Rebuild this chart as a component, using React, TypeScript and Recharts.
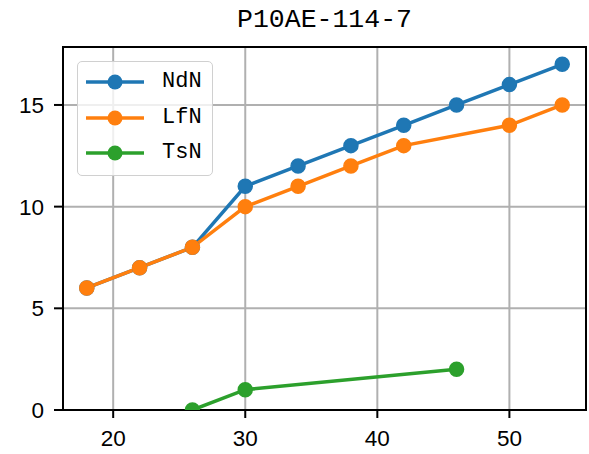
import React from 'react';
import { LineChart, Line, XAxis, YAxis, CartesianGrid, ReferenceArea } from 'recharts';

const title = 'P10AE-114-7';
const xTicks = [20, 30, 40, 50];
const yTicks = [0, 5, 10, 15];

const ndnX = [18, 22, 26, 30, 34, 38, 42, 46, 50, 54];
const ndnY = [6, 7, 8, 11, 12, 13, 14, 15, 16, 17];
const lfnX = [18, 22, 26, 30, 34, 38, 42, 50, 54];
const lfnY = [6, 7, 8, 10, 11, 12, 13, 14, 15];
const tsnX = [26, 30, 46];
const tsnY = [0, 1, 2];

const series = [
  { name: 'NdN', color: '#1f77b4', data: ndnX.map((x, i) => ({ x, y: ndnY[i] })) },
  { name: 'LfN', color: '#ff7f0e', data: lfnX.map((x, i) => ({ x, y: lfnY[i] })) },
  { name: 'TsN', color: '#2ca02c', data: tsnX.map((x, i) => ({ x, y: tsnY[i] })) },
];

const FONT = '"Liberation Mono", "DejaVu Sans Mono", monospace';
const TICK_FONT = '"Liberation Sans", Arial, sans-serif';

const LegendBox = () => (
  <div
    style={{
      position: 'absolute',
      left: 77,
      top: 61,
      width: 134,
      height: 113,
      border: '1px solid #d0d0d0',
      borderRadius: 5,
      background: 'rgba(255,255,255,0.8)',
    }}
  >
    {series.map((s, i) => (
      <div key={s.name} style={{ position: 'absolute', left: 0, top: 2 + i * 35.5, height: 36, width: 134 }}>
        <svg width={70} height={36} style={{ position: 'absolute', left: 6, top: 0 }}>
          <line x1={2} y1={18} x2={60} y2={18} stroke={s.color} strokeWidth={3.5} />
          <circle cx={31} cy={18} r={7.5} fill={s.color} />
        </svg>
        <span
          style={{
            position: 'absolute',
            left: 84,
            top: 3,
            fontFamily: FONT,
            fontSize: 22,
            lineHeight: '30px',
            color: '#000',
          }}
        >
          {s.name}
        </span>
      </div>
    ))}
  </div>
);

export default function App() {
  return (
    <div style={{ position: 'absolute', left: 0, top: 0, width: 589, height: 454, background: '#fff' }}>
      <div
        style={{
          position: 'absolute',
          left: 63,
          width: 523,
          top: 2,
          textAlign: 'center',
          fontFamily: FONT,
          fontSize: 26.5,
          lineHeight: '36px',
          color: '#000',
        }}
      >
        {title}
      </div>
      <LineChart width={589} height={454} margin={{ top: 47, right: 3, bottom: 0, left: 0 }}>
        <CartesianGrid stroke="#b0b0b0" strokeWidth={2} horizontalValues={yTicks} verticalValues={xTicks} />
        <XAxis
          type="number"
          dataKey="x"
          domain={[16.2, 55.8]}
          ticks={xTicks}
          allowDataOverflow
          height={44}
          tickSize={8}
          tickMargin={12}
          stroke="#000"
          axisLine={{ stroke: '#000', strokeWidth: 2 }}
          tickLine={{ stroke: '#000', strokeWidth: 2 }}
          tick={{ fill: '#000', fontSize: 22.5, fontFamily: TICK_FONT }}
        />
        <YAxis
          type="number"
          dataKey="y"
          domain={[0, 17.85]}
          ticks={yTicks}
          allowDataOverflow
          width={63}
          tickSize={9}
          tickMargin={10}
          stroke="#000"
          axisLine={{ stroke: '#000', strokeWidth: 2 }}
          tickLine={{ stroke: '#000', strokeWidth: 2 }}
          tick={{ fill: '#000', fontSize: 22.5, fontFamily: TICK_FONT }}
        />
        {series.map((s) => (
          <Line
            key={s.name}
            data={s.data}
            dataKey="y"
            name={s.name}
            stroke={s.color}
            strokeWidth={3.5}
            dot={{ r: 7, fill: s.color, stroke: s.color, strokeWidth: 1.5 }}
            activeDot={false}
            isAnimationActive={false}
          />
        ))}
        <ReferenceArea
          x1={16.2}
          x2={55.8}
          y1={0}
          y2={17.85}
          fill="none"
          stroke="#000"
          strokeWidth={2}
          ifOverflow="visible"
        />
      </LineChart>
      <LegendBox />
    </div>
  );
}
